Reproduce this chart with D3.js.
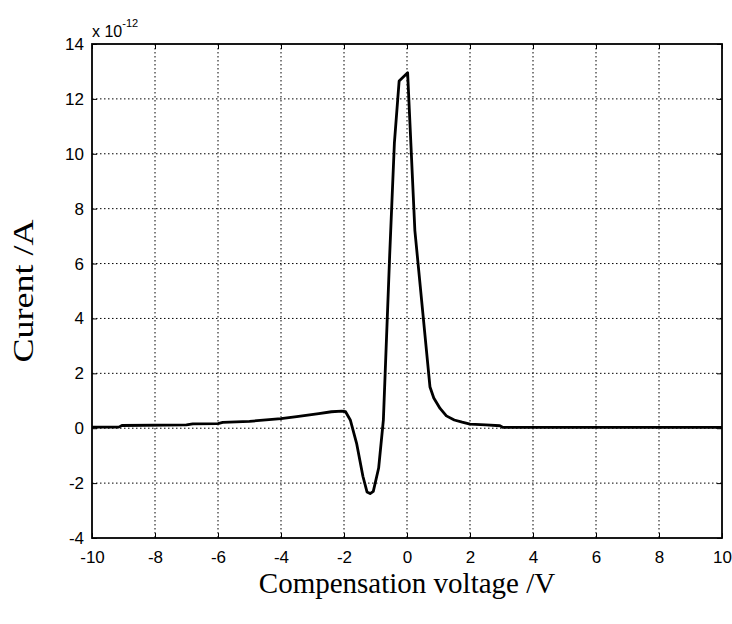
<!DOCTYPE html>
<meta charset="utf-8">
<script src="https://cdn.jsdelivr.net/npm/d3@7"></script>
<style>
body{margin:0;background:#fff;}
.tick text{font-family:"Liberation Sans",Arial,sans-serif;font-size:17px;fill:#000;}
.grid line{stroke:#000;stroke-width:1;stroke-dasharray:1.5,2.5;}
.title{font-family:"Liberation Serif","Times New Roman",serif;font-size:29px;fill:#000;}
</style>
<div id="vis"></div>
<script>

// (current in units of 1e-12 A)
var voltage = [-10, -9.15, -9.05, -7.0, -6.8, -6.0, -5.85, -5.0, -4.0, -3.5, -2.8, -2.4, -2.07, -1.95,
               -1.8, -1.6, -1.4, -1.27, -1.17, -1.07, -0.9, -0.75, -0.55, -0.4, -0.25, 0.02,
               0.25, 0.73, 0.85, 1.05, 1.25, 1.5, 1.75, 2.0, 2.5, 2.95, 3.05, 10];
var current = [0.04, 0.04, 0.1, 0.12, 0.16, 0.17, 0.21, 0.25, 0.35, 0.42, 0.53, 0.6, 0.62, 0.6,
               0.3, -0.55, -1.75, -2.32, -2.38, -2.3, -1.45, 0.3, 6.3, 10.4, 12.65, 12.95,
               7.2, 1.5, 1.1, 0.72, 0.45, 0.3, 0.22, 0.15, 0.12, 0.09, 0.03, 0.03];
var xTicks = [-10, -8, -6, -4, -2, 0, 2, 4, 6, 8, 10];
var yTicks = [-4, -2, 0, 2, 4, 6, 8, 10, 12, 14];

var w = 732, h = 624;
var margin = {top: 44, right: 10, bottom: 86, left: 92};
var width = w - margin.left - margin.right,
    height = h - margin.top - margin.bottom;

var svg = d3.select("#vis").append("svg")
    .attr("width", w)
    .attr("height", h);

var g = svg.append("g")
    .attr("transform", "translate(" + margin.left + "," + margin.top + ")");

var x = d3.scaleLinear().domain([-10, 10]).range([0, width]);
var y = d3.scaleLinear().domain([-4, 14]).range([height, 0]);

// dotted grid
g.append("g").attr("class", "grid")
  .selectAll("line").data(xTicks.slice(1, -1)).enter().append("line")
    .attr("x1", function(d) { return x(d); }).attr("x2", function(d) { return x(d); })
    .attr("y1", 0).attr("y2", height);
g.append("g").attr("class", "grid")
  .selectAll("line").data(yTicks.slice(1, -1)).enter().append("line")
    .attr("y1", function(d) { return y(d); }).attr("y2", function(d) { return y(d); })
    .attr("x1", 0).attr("x2", width);

// axes, ticks pointing inward
g.append("g")
    .attr("transform", "translate(0," + height + ")")
    .call(d3.axisBottom(x).tickValues(xTicks).tickSize(-5).tickPadding(13))
    .call(function(s) { s.select(".domain").remove(); });
g.append("g")
    .call(d3.axisLeft(y).tickValues(yTicks).tickSize(-5).tickPadding(8))
    .call(function(s) { s.select(".domain").remove(); });
g.append("g")
    .call(d3.axisTop(x).tickValues(xTicks).tickSize(-5).tickFormat(""))
    .call(function(s) { s.select(".domain").remove(); });
g.append("g")
    .attr("transform", "translate(" + width + ",0)")
    .call(d3.axisRight(y).tickValues(yTicks).tickSize(-5).tickFormat(""))
    .call(function(s) { s.select(".domain").remove(); });
g.selectAll(".tick line").attr("stroke", "#000");
g.selectAll(".tick text").text(function() { return this.textContent.replace("\u2212", "-"); });

g.append("rect")
    .attr("width", width).attr("height", height)
    .attr("fill", "none").attr("stroke", "#000").attr("stroke-width", 1.8);

// curve
var pts = voltage.map(function(v, i) { return [v, current[i]]; });
g.append("path")
    .datum(pts)
    .attr("fill", "none")
    .attr("stroke", "#000")
    .attr("stroke-width", 2.8)
    .attr("stroke-linejoin", "round")
    .attr("d", d3.line().x(function(d) { return x(d[0]); }).y(function(d) { return y(d[1]); }));

// exponent label
var ex = svg.append("text")
    .attr("x", margin.left).attr("y", 37)
    .style("font-family", "'Liberation Sans',Arial,sans-serif")
    .style("font-size", "16px");
ex.append("tspan").text("x 10");
ex.append("tspan").attr("dy", -10).style("font-size", "11px").text("-12");

// axis titles
svg.append("text").attr("class", "title")
    .attr("x", 407).attr("y", 593)
    .attr("text-anchor", "middle")
    .text("Compensation voltage /V");
svg.append("text").attr("class", "title")
    .attr("transform", "translate(33,291) rotate(-90)")
    .attr("text-anchor", "middle")
    .attr("textLength", 143)
    .attr("lengthAdjust", "spacingAndGlyphs")
    .text("Curent /A");

</script>
